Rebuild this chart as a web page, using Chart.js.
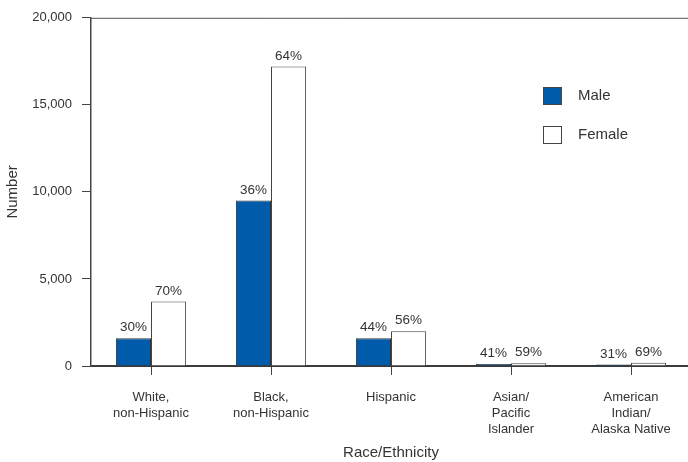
<!DOCTYPE html>
<html>
<head>
<meta charset="utf-8">
<script src="https://cdn.jsdelivr.net/npm/chart.js@4.4.0/dist/chart.umd.min.js"></script>
<style>
  html, body { margin: 0; padding: 0; background: #fff; overflow: hidden; }
  #wrap { width: 691px; height: 462px; }
</style>
</head>
<body>
<div id="wrap"><canvas id="myChart"></canvas></div>
<script>
var categories = [
  ['White,', 'non-Hispanic'],
  ['Black,', 'non-Hispanic'],
  ['Hispanic'],
  ['Asian/', 'Pacific', 'Islander'],
  ['American', 'Indian/', 'Alaska Native']
];
var maleValues = [1600, 9500, 1600, 115, 85];
var femaleValues = [3700, 17200, 2000, 165, 185];
var maleShare = ['30%', '36%', '44%', '41%', '31%'];
var femaleShare = ['70%', '64%', '56%', '59%', '69%'];
var yTicks = [0, 5000, 10000, 15000, 20000];

var blue = '#005BAA';
var ink = '#333333';
var lineCol = '#444444';

Chart.defaults.font.family = '"Liberation Sans", Arial, sans-serif';
Chart.defaults.font.size = 13;
Chart.defaults.color = ink;

// percent labels above each bar
var shareLabels = {
  id: 'shareLabels',
  afterDatasetsDraw: function(chart){
    var ctx = chart.ctx;
    var shares = [maleShare, femaleShare];
    ctx.save();
    ctx.font = '13.5px "Liberation Sans", Arial, sans-serif';
    ctx.fillStyle = ink;
    ctx.textAlign = 'center';
    ctx.textBaseline = 'alphabetic';
    chart.data.datasets.forEach(function(ds, i){
      chart.getDatasetMeta(i).data.forEach(function(bar, j){
        ctx.fillText(shares[i][j], bar.x, bar.y - 7);
      });
    });
    ctx.restore();
  }
};

// top frame line + legend inside the plot, like the original
var boxLegend = {
  id: 'boxLegend',
  afterDraw: function(chart){
    var ctx = chart.ctx;
    var area = chart.chartArea;
    ctx.save();
    ctx.strokeStyle = '#555555';
    ctx.lineWidth = 1;
    ctx.beginPath();
    ctx.moveTo(area.left, area.top + 0.5);
    ctx.lineTo(area.right, area.top + 0.5);
    ctx.stroke();

    ctx.font = '15px "Liberation Sans", Arial, sans-serif';
    ctx.textBaseline = 'middle';
    ctx.textAlign = 'left';
    chart.data.datasets.forEach(function(ds, i){
      var y = 87 + i * 39;
      ctx.fillStyle = ds.backgroundColor;
      ctx.fillRect(543, y, 18, 17);
      ctx.strokeStyle = lineCol;
      ctx.lineWidth = 1;
      ctx.strokeRect(543.5, y + 0.5, 18, 17);
      ctx.fillStyle = ink;
      ctx.fillText(ds.label, 578, y + 9);
    });
    ctx.restore();
  }
};

new Chart(document.getElementById('myChart'), {
  type: 'bar',
  data: {
    labels: categories,
    datasets: [
      {
        label: 'Male',
        data: maleValues,
        backgroundColor: blue,
        borderColor: '#333333',
        borderWidth: 1,
        borderSkipped: 'bottom'
      },
      {
        label: 'Female',
        data: femaleValues,
        backgroundColor: '#ffffff',
        borderColor: lineCol,
        borderWidth: 1,
        borderSkipped: 'bottom'
      }
    ]
  },
  options: {
    responsive: true,
    maintainAspectRatio: false,
    animation: false,
    layout: { padding: { top: 16, right: 0, left: 0, bottom: 0 } },
    datasets: {
      bar: { barPercentage: 1, categoryPercentage: 0.585 }
    },
    plugins: {
      legend: { display: false },
      tooltip: { enabled: false }
    },
    scales: {
      x: {
        afterFit: function(scale){ scale.height = 96; },
        grid: { offset: false, drawOnChartArea: false, drawTicks: true, tickLength: 9, color: lineCol, lineWidth: 1 },
        border: { color: '#3a3a3a', width: 2 },
        ticks: { padding: 15, maxRotation: 0, autoSkip: false, color: ink },
        title: { display: true, text: 'Race/Ethnicity', color: ink, font: { size: 15 }, padding: { top: 0, bottom: 0 } }
      },
      y: {
        min: 0,
        max: 20000,
        afterFit: function(scale){ scale.width = 91; },
        afterBuildTicks: function(scale){
          scale.ticks = yTicks.map(function(v){ return { value: v }; });
        },
        grid: { drawOnChartArea: false, drawTicks: true, tickLength: 9, color: lineCol, lineWidth: 1 },
        border: { color: lineCol, width: 1.5 },
        ticks: {
          padding: 10,
          color: ink,
          callback: function(v){ return v.toLocaleString('en-US'); }
        },
        title: { display: true, text: 'Number', color: ink, font: { size: 15 }, padding: { top: 4, bottom: 4 } }
      }
    }
  },
  plugins: [shareLabels, boxLegend]
});
</script>
</body>
</html>
